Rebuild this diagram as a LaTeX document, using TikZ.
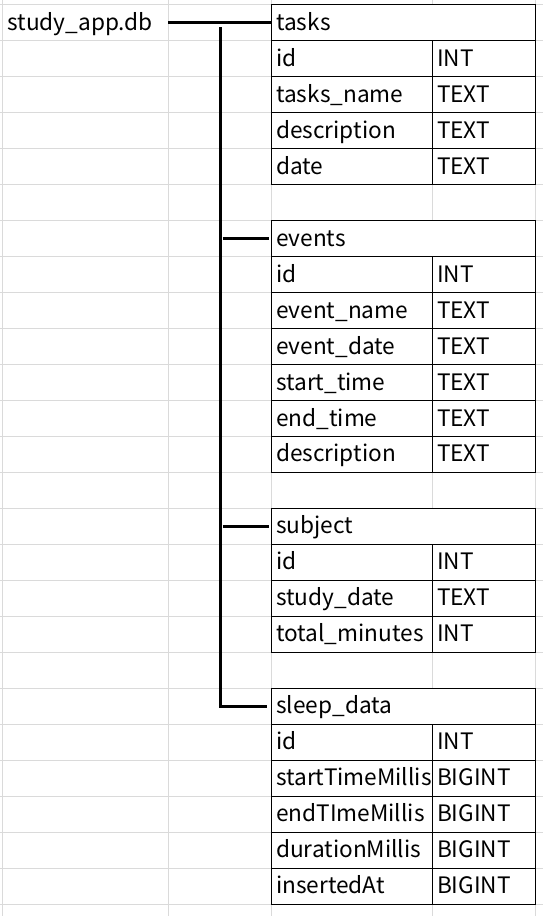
\documentclass[tikz,border=0pt]{standalone}
\usepackage{fontspec}
\setmainfont{Noto Sans CJK JP}
\usepackage{tikz}
\usetikzlibrary{positioning}
\definecolor{cinzagrade}{HTML}{DADADA}
\tikzset{
  celula/.style={outer sep=0pt, inner xsep=3.75pt, inner ysep=0pt, text width=#1, align=left, text height=19.1pt, text depth=7.9pt, font=\fontsize{17pt}{20pt}\selectfont},
  cabecalho/.style={celula=191.25pt, draw, fill=white, line width=0.75pt, anchor=north west},
  campo/.style={celula=113.25pt, draw, fill=white, line width=0.75pt, anchor=north west},
  tipo/.style={celula=70.5pt, draw, fill=white, line width=0.75pt},
  ligacao/.style={line width=2.25pt},
  grade/.style={draw=cinzagrade, line width=0.75pt},
}
\newcommand{\linha}[4]{%
  \node[campo] (#2) at (#1.south west) {#3};
  \node[tipo, right=0pt of #2] (#2t) {#4};}

\begin{document}
\begin{tikzpicture}[x=0.75pt, y=-0.75pt]
  % fundo da planilha
  \fill[white] (0,0) rectangle (543,916);
  \foreach \y in {0,...,25} \draw[grade] (0,4.5+36*\y) -- (543,4.5+36*\y);
  \foreach \x in {2,168,271,432,536} \draw[grade] (\x,0) -- (\x,916);

  \node[celula=117pt, anchor=north west] (db) at (2,4.5) {study\_app.db};

  % tabela tasks
  \node[cabecalho] (tasks) at (271,4.5) {tasks};
  \linha{tasks}{ta1}{id}{INT}
  \linha{ta1}{ta2}{tasks\_name}{TEXT}
  \linha{ta2}{ta3}{description}{TEXT}
  \linha{ta3}{ta4}{date}{TEXT}

  % tabela events
  \node[cabecalho] (events) at (271,220.5) {events};
  \linha{events}{ev1}{id}{INT}
  \linha{ev1}{ev2}{event\_name}{TEXT}
  \linha{ev2}{ev3}{event\_date}{TEXT}
  \linha{ev3}{ev4}{start\_time}{TEXT}
  \linha{ev4}{ev5}{end\_time}{TEXT}
  \linha{ev5}{ev6}{description}{TEXT}

  % tabela subject
  \node[cabecalho] (subject) at (271,508.5) {subject};
  \linha{subject}{su1}{id}{INT}
  \linha{su1}{su2}{study\_date}{TEXT}
  \linha{su2}{su3}{total\_minutes}{INT}

  % tabela sleep_data
  \node[cabecalho] (sleep) at (271,688.5) {sleep\_data};
  \linha{sleep}{sl1}{id}{INT}
  \linha{sl1}{sl2}{startTimeMillis}{BIGINT}
  \linha{sl2}{sl3}{endTImeMillis}{BIGINT}
  \linha{sl3}{sl4}{durationMillis}{BIGINT}
  \linha{sl4}{sl5}{insertedAt}{BIGINT}

  % ligacoes
  \coordinate (tronco) at (220,27);
  \draw[ligacao] (db.east) -- (tasks.west);
  \draw[ligacao, shorten >=3pt] (tronco) |- (sleep.west);
  \draw[ligacao, shorten <=2pt, shorten >=2pt] (tronco |- events.west) -- (events.west);
  \draw[ligacao, shorten <=2pt, shorten >=2pt] (tronco |- subject.west) -- (subject.west);
\end{tikzpicture}
\end{document}
